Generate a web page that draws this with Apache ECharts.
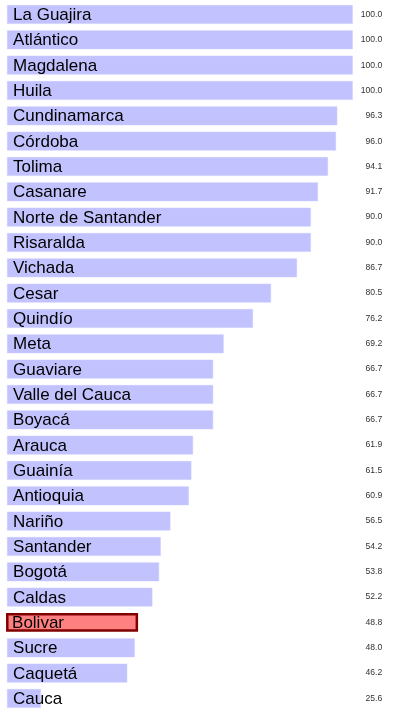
<!DOCTYPE html>
<html>
<head>
<meta charset="utf-8">
<script src="https://cdn.jsdelivr.net/npm/echarts@6/dist/echarts.min.js"></script>
<style>
  html, body { margin: 0; padding: 0; background: #ffffff; }
  #chart { width: 393px; height: 708px; }
</style>
</head>
<body>
<div id="chart"></div>
<script>
// Departments, ordered from highest to lowest percentage
const departments = [
  'La Guajira', 'Atlántico', 'Magdalena', 'Huila', 'Cundinamarca', 'Córdoba',
  'Tolima', 'Casanare', 'Norte de Santander', 'Risaralda', 'Vichada', 'Cesar',
  'Quindío', 'Meta', 'Guaviare', 'Valle del Cauca', 'Boyacá', 'Arauca',
  'Guainía', 'Antioquia', 'Nariño', 'Santander', 'Bogotá', 'Caldas',
  'Bolivar', 'Sucre', 'Caquetá', 'Cauca'
];
const percentages = [
  100.0, 100.0, 100.0, 100.0, 96.3, 96.0,
  94.1, 91.7, 90.0, 90.0, 86.7, 80.5,
  76.2, 69.2, 66.7, 66.7, 66.7, 61.9,
  61.5, 60.9, 56.5, 54.2, 53.8, 52.2,
  48.8, 48.0, 46.2, 25.6
];
const highlighted = 'Bolivar';

const chart = echarts.init(document.getElementById('chart'), null, { renderer: 'canvas' });

const barData = percentages.map((v, i) => {
  const item = { value: v };
  if (departments[i] === highlighted) {
    item.itemStyle = { color: '#ff8080', borderColor: '#800000', borderWidth: 2.5 };
  }
  return item;
});

chart.setOption({
  animation: false,
  backgroundColor: '#ffffff',
  // the last row runs slightly past the bottom edge of the canvas
  grid: {
    left: 7.3, width: 345.4, top: 1.8, height: 709.3,
    containLabel: false,
    outerBoundsMode: 'none'
  },
  xAxis: {
    type: 'value',
    min: 17.6,
    max: 100,
    show: false
  },
  yAxis: [
    {
      type: 'category',
      data: departments,
      inverse: true,
      show: false
    },
    {
      type: 'category',
      data: percentages.map(v => v.toFixed(1)),
      inverse: true,
      position: 'right',
      axisLine: { show: false },
      axisTick: { show: false },
      splitLine: { show: false },
      axisLabel: {
        show: true,
        align: 'right',
        margin: 29.5,
        padding: [2, 0, 0, 0],
        fontFamily: 'Liberation Sans, Arial, sans-serif',
        fontSize: 8.6,
        color: '#333333'
      }
    }
  ],
  series: [
    {
      type: 'bar',
      yAxisIndex: 0,
      data: barData,
      barCategoryGap: '26%',
      itemStyle: { color: '#c2c2ff', borderColor: '#c8c8ff', borderWidth: 0.5 },
      label: {
        show: true,
        position: 'insideLeft',
        distance: 6,
        offset: [0, 1],
        formatter: p => departments[p.dataIndex],
        fontFamily: 'Liberation Sans, Arial, sans-serif',
        fontSize: 17,
        color: '#000000'
      }
    }
  ]
});
</script>
</body>
</html>
